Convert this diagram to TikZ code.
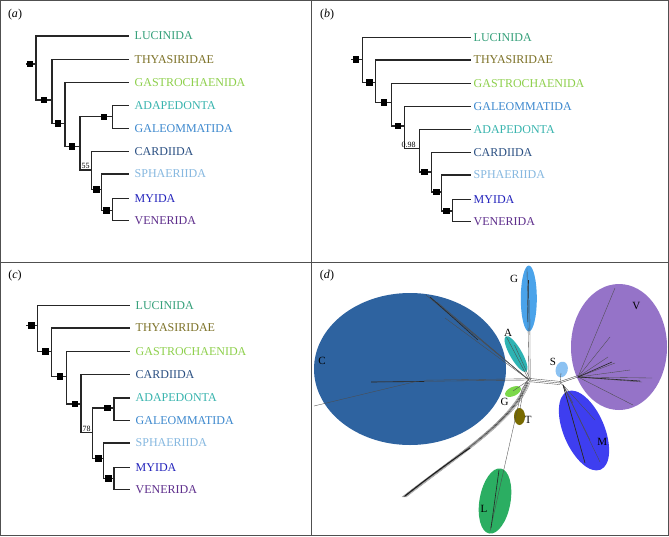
\documentclass[tikz,border=0pt]{standalone}
\usepackage{fontspec}
\setmainfont{Liberation Serif}
\usetikzlibrary{shapes.geometric}
\definecolor{cLUC}{HTML}{35A07A}
\definecolor{cTHY}{HTML}{7D7228}
\definecolor{cGAS}{HTML}{8ED04C}
\definecolor{cADA}{HTML}{38B4AE}
\definecolor{cGAL}{HTML}{3C88CE}
\definecolor{cCAR}{HTML}{2A4F82}
\definecolor{cSPH}{HTML}{86B8E0}
\definecolor{cMYI}{HTML}{2424BC}
\definecolor{cVEN}{HTML}{5E2E8C}
\definecolor{eC}{HTML}{2E63A0}
\definecolor{eG}{HTML}{4AA3EA}
\definecolor{eA}{HTML}{2DB3B3}
\definecolor{eS}{HTML}{8CC2F2}
\definecolor{eV}{HTML}{9573C8}
\definecolor{eM}{HTML}{3E3EF0}
\definecolor{eGs}{HTML}{7CD84A}
\definecolor{eT}{HTML}{786A00}
\definecolor{eL}{HTML}{2BAE62}
\definecolor{framec}{HTML}{505050}
\begin{document}
\begin{tikzpicture}[x=1pt,y=-1pt,
  br/.style={line width=1.1pt, draw=black!85},
  sqm/.style={fill=black, minimum size=6.5pt, inner sep=0pt},
  leaf/.style={anchor=west, inner sep=0pt, font=\fontsize{12}{14}\selectfont},
  bs/.style={anchor=south, inner sep=0.3pt, font=\fontsize{8}{9}\selectfont},
  plab/.style={inner sep=0pt, font=\fontsize{12}{14}\selectfont},
  ell/.style={ellipse, inner sep=0pt, draw=none},
  net/.style={line width=0.35pt, draw=black!70},
  netd/.style={line width=0.6pt, draw=black!85},
  dl/.style={inner sep=0pt, font=\fontsize{11}{13}\selectfont},
]
\useasboundingbox (0,0) rectangle (669,536);
\fill[white] (0,0) rectangle (669,536);

% ---------------- panel labels
\node[plab] (pa) at (15,14.5) {(\textit{a})};
\node[plab] (pb) at (327,14.5) {(\textit{b})};
\node[plab] (pc) at (15,275.5) {(\textit{c})};
\node[plab] (pd) at (327,275.5) {(\textit{d})};

% ================= panel (a)
\coordinate (as) at (26,64);
\coordinate (a0) at (36,64);
\coordinate (a1) at (52,100);
\coordinate (a2) at (65,123.3);
\coordinate (a3) at (80,146.7);
\coordinate (aAG) at (112.7,116.8);
\coordinate (a5) at (91.7,170);
\coordinate (a6) at (101.7,189.3);
\coordinate (a7) at (112.7,210.5);
\coordinate (aL1) at (129,36);
\coordinate (aL2) at (129,59.3);
\coordinate (aL3) at (129,82.3);
\coordinate (aL4) at (129,105.7);
\coordinate (aL5) at (129,128.3);
\coordinate (aL6) at (129,151.7);
\coordinate (aL7) at (129,174);
\coordinate (aL8) at (129,198.3);
\coordinate (aL9) at (129,220.7);
\draw[br] (as) -- (a0);
\draw[br] (a0) |- (aL1) (a0) |- (a1);
\draw[br] (a1) |- (aL2) (a1) |- (a2);
\draw[br] (a2) |- (aL3) (a2) |- (a3);
\draw[br] (a3) |- (aAG) (a3) |- (a5);
\draw[br] (aAG) |- (aL4) (aAG) |- (aL5);
\draw[br] (a5) |- (aL6) (a5) |- (a6);
\draw[br] (a6) |- (aL7) (a6) |- (a7);
\draw[br] (a7) |- (aL8) (a7) |- (aL9);
\node[sqm,xshift=-6pt] at (a0) {};
\node[sqm,xshift=-8pt] at (a1) {};
\node[sqm,xshift=-7pt] at (a2) {};
\node[sqm,xshift=-8pt] at (a3) {};
\node[sqm,xshift=-8.5pt] at (aAG) {};
\node[sqm,xshift=-5pt] at (a6) {};
\node[sqm,xshift=-6pt] at (a7) {};
\node[bs] (a55) at (85.5,169.5) {55};
\node[leaf,text=cLUC,xshift=5.5pt] at (aL1) {LUCINIDA};
\node[leaf,text=cTHY,xshift=5.5pt] at (aL2) {THYASIRIDAE};
\node[leaf,text=cGAS,xshift=5.5pt] at (aL3) {GASTROCHAENIDA};
\node[leaf,text=cADA,xshift=5.5pt] at (aL4) {ADAPEDONTA};
\node[leaf,text=cGAL,xshift=5.5pt] at (aL5) {GALEOMMATIDA};
\node[leaf,text=cCAR,xshift=5.5pt] at (aL6) {CARDIIDA};
\node[leaf,text=cSPH,xshift=5.5pt] at (aL7) {SPHAERIIDA};
\node[leaf,text=cMYI,xshift=5.5pt] at (aL8) {MYIDA};
\node[leaf,text=cVEN,xshift=5.5pt] at (aL9) {VENERIDA};

% ================= panel (b)
\coordinate (bs0) at (351.3,59.3);
\coordinate (b0) at (362.3,59.3);
\coordinate (b1) at (375.7,82.7);
\coordinate (b2) at (391.3,102.7);
\coordinate (b3) at (404.7,126);
\coordinate (b4) at (419.7,148.7);
\coordinate (b5) at (431.3,172);
\coordinate (b6) at (441.7,192);
\coordinate (b7) at (452.3,211);
\coordinate (bL1) at (470.7,37.7);
\coordinate (bL2) at (470.7,60);
\coordinate (bL3) at (470.7,83.3);
\coordinate (bL4) at (470.7,106.7);
\coordinate (bL5) at (470.7,129.3);
\coordinate (bL6) at (470.7,152.7);
\coordinate (bL7) at (470.7,175);
\coordinate (bL8) at (470.7,199.3);
\coordinate (bL9) at (470.7,221.7);
\draw[br] (bs0) -- (b0);
\draw[br] (b0) |- (bL1) (b0) |- (b1);
\draw[br] (b1) |- (bL2) (b1) |- (b2);
\draw[br] (b2) |- (bL3) (b2) |- (b3);
\draw[br] (b3) |- (bL4) (b3) |- (b4);
\draw[br] (b4) |- (bL5) (b4) |- (b5);
\draw[br] (b5) |- (bL6) (b5) |- (b6);
\draw[br] (b6) |- (bL7) (b6) |- (b7);
\draw[br] (b7) |- (bL8) (b7) |- (bL9);
\node[sqm,xshift=-6.3pt] at (b0) {};
\node[sqm,xshift=-6pt] at (b1) {};
\node[sqm,xshift=-7.3pt] at (b2) {};
\node[sqm,xshift=-6.7pt] at (b3) {};
\node[sqm,xshift=-6.6pt] at (b5) {};
\node[sqm,xshift=-5pt] at (b6) {};
\node[sqm,xshift=-5.6pt] at (b7) {};
\node[bs] (b098) at (408.5,148.3) {0.98};
\node[leaf,text=cLUC,xshift=2.8pt] at (bL1) {LUCINIDA};
\node[leaf,text=cTHY,xshift=2.8pt] at (bL2) {THYASIRIDAE};
\node[leaf,text=cGAS,xshift=2.8pt] at (bL3) {GASTROCHAENIDA};
\node[leaf,text=cGAL,xshift=2.8pt] at (bL4) {GALEOMMATIDA};
\node[leaf,text=cADA,xshift=2.8pt] at (bL5) {ADAPEDONTA};
\node[leaf,text=cCAR,xshift=2.8pt] at (bL6) {CARDIIDA};
\node[leaf,text=cSPH,xshift=2.8pt] at (bL7) {SPHAERIIDA};
\node[leaf,text=cMYI,xshift=2.8pt] at (bL8) {MYIDA};
\node[leaf,text=cVEN,xshift=2.8pt] at (bL9) {VENERIDA};

% ================= panel (c)
\coordinate (cs0) at (26,325.7);
\coordinate (c0) at (37.3,325.7);
\coordinate (c1) at (51.7,351.3);
\coordinate (c2) at (66.7,376.3);
\coordinate (c3) at (81,404);
\coordinate (c4) at (92.7,432.3);
\coordinate (cAG) at (114,408);
\coordinate (c6) at (103.3,458.7);
\coordinate (c7) at (114,478.7);
\coordinate (cL1) at (130,305.7);
\coordinate (cL2) at (130,328);
\coordinate (cL3) at (130,351.3);
\coordinate (cL4) at (130,374.7);
\coordinate (cL5) at (130,398);
\coordinate (cL6) at (130,420.7);
\coordinate (cL7) at (130,443);
\coordinate (cL8) at (130,467.3);
\coordinate (cL9) at (130,489.7);
\draw[br] (cs0) -- (c0);
\draw[br] (c0) |- (cL1) (c0) |- (c1);
\draw[br] (c1) |- (cL2) (c1) |- (c2);
\draw[br] (c2) |- (cL3) (c2) |- (c3);
\draw[br] (c3) |- (cL4) (c3) |- (c4);
\draw[br] (c4) |- (cAG) (c4) |- (c6);
\draw[br] (cAG) |- (cL5) (cAG) |- (cL6);
\draw[br] (c6) |- (cL7) (c6) |- (c7);
\draw[br] (c7) |- (cL8) (c7) |- (cL9);
\node[sqm,xshift=-5.6pt] at (c0) {};
\node[sqm,xshift=-6.4pt] at (c1) {};
\node[sqm,xshift=-6.7pt] at (c2) {};
\node[sqm,xshift=-6pt] at (c3) {};
\node[sqm,xshift=-6.7pt] at (cAG) {};
\node[sqm,xshift=-5pt] at (c6) {};
\node[sqm,xshift=-5.7pt] at (c7) {};
\node[bs] (c78) at (86.5,431.8) {78};
\node[leaf,text=cLUC,xshift=5.5pt] at (cL1) {LUCINIDA};
\node[leaf,text=cTHY,xshift=5.5pt] at (cL2) {THYASIRIDAE};
\node[leaf,text=cGAS,xshift=5.5pt] at (cL3) {GASTROCHAENIDA};
\node[leaf,text=cCAR,xshift=5.5pt] at (cL4) {CARDIIDA};
\node[leaf,text=cADA,xshift=5.5pt] at (cL5) {ADAPEDONTA};
\node[leaf,text=cGAL,xshift=5.5pt] at (cL6) {GALEOMMATIDA};
\node[leaf,text=cSPH,xshift=5.5pt] at (cL7) {SPHAERIIDA};
\node[leaf,text=cMYI,xshift=5.5pt] at (cL8) {MYIDA};
\node[leaf,text=cVEN,xshift=5.5pt] at (cL9) {VENERIDA};

% ================= panel (d)
\begin{scope}
\clip (312,263) rectangle (668,535);
% ellipses
\node[ell,fill=eC,minimum width=192pt,minimum height=152pt] (elC) at (410,369) {};
\node[ell,fill=eG,minimum width=16pt,minimum height=66pt] (elG) at (528.8,298.5) {};
\node[ell,fill=eA,minimum width=41pt,minimum height=12pt,rotate=-60] (elA) at (516,354) {};
\node[ell,fill=eS,minimum width=12pt,minimum height=16pt,rotate=-15] (elS) at (561.7,369.5) {};
\node[ell,fill=eV,minimum width=96pt,minimum height=126pt] (elV) at (619,347) {};
\node[ell,fill=eM,minimum width=85pt,minimum height=41pt,rotate=-67] (elM) at (584,430.5) {};
\node[ell,fill=eGs,minimum width=17pt,minimum height=9pt,rotate=25] (elGs) at (513,391.5) {};
\node[ell,fill=eT,minimum width=11pt,minimum height=17pt] (elT) at (519.5,416.5) {};
\node[ell,fill=eL,minimum width=31pt,minimum height=66pt,rotate=-10] (elL) at (495,501) {};
% network hubs
\coordinate (H1) at (529,380);
\coordinate (H2) at (560,383);
\coordinate (H3) at (578,377);
\coordinate (H4) at (563,385);
% hub connections
\foreach \d in {-1.6,0,1.6} {
  \draw[net] ([yshift=\d pt]H1) -- ([yshift=\d pt]H2);
}
\draw[net] (H2) -- (H3);
\draw[net] ([yshift=1.5pt]H2) -- ([yshift=1.5pt]H3);
\draw[net] (H2) -- (H4);
\draw[net] (H2) -- (561,373);
% to C
\coordinate (Cu1) at (426,295);
\coordinate (Cu2) at (430,297);
\coordinate (Cu3) at (437,302);
\coordinate (Cu4) at (445,318);
\foreach \p in {Cu1,Cu2,Cu3,Cu4} {\draw[net] (H1) -- (\p);}
\draw[netd] (Cu2) -- (478,340);
\coordinate (Ch) at (371,382);
\coordinate (Ch2) at (424,381.5);
\coordinate (Cl) at (314,406);
\draw[net] (H1) -- (Ch);
\draw[net] ([yshift=1.3pt]H1) -- ([yshift=1.3pt]Ch2);
\draw[netd] (Ch) -- (Ch2);
\draw[net] (416,381.5) -- (Cl);
% to G top, A, small G
\coordinate (Gt) at (527,268);
\draw[net] (H1) -- (Gt);
\draw[net] ([xshift=1.2pt]H1) -- ([xshift=1.2pt]528.5,300);
\draw[netd] (528.5,280) -- (527.8,322);
\coordinate (At) at (506.5,337);
\draw[net] (H1) -- (At);
\draw[net] ([xshift=1.5pt]H1) -- ([xshift=1.5pt]513,345);
\draw[net] (H1) -- (513,391);
% lower-left bundle
\foreach \d/\c in {-2/black!45,-1/black!60,0/black!85,1/black!55,2.2/black!40} {
  \draw[line width=0.45pt,draw=\c] ([xshift=\d pt]528,382) .. controls ([xshift=\d pt]514,420) and ([xshift=\d pt]462,452) .. ([xshift=\d pt]404,497);
}
\draw[line width=0.9pt,draw=black!90] (470,448) .. controls (445,465) and (425,480) .. (405,496);
% L and T
\draw[net] ([xshift=-1pt]H1) -- (522,389);
\draw[net] (522,389) -- (490,531);
\draw[netd] (499,470) -- (491,528);
\draw[net] (523,392) -- (520,409);
% to V
\foreach \p in {(615,288),(610,337),(608,357),(615,363),(642,382),(652,378),(633,405),(630,370)} {
  \draw[net] (H3) -- \p;
}
\draw[netd] (H3) -- (640,381);
\draw[netd] (H3) -- (612,362);
% to M
\foreach \p in {(585,463),(600,462),(595,420),(573,403),(590,440)} {
  \draw[net] (H4) -- \p;
}
\draw[netd] (H4) -- (585,463);
% labels
\node[dl] (tC) at (322,361) {C};
\node[dl] (tG1) at (514,279) {G};
\node[dl] (tA) at (508,333) {A};
\node[dl] (tS) at (553,362) {S};
\node[dl] (tV) at (636.3,306) {V};
\node[dl] (tM) at (602.3,442) {M};
\node[dl] (tG2) at (504.7,402) {G};
\node[dl] (tT) at (528.3,420.3) {T};
\node[dl] (tL) at (484,509) {L};
\end{scope}

% frame
\draw[framec,line width=0.9pt] (0.5,0.5) rectangle (668.5,535.5);
\draw[framec,line width=0.9pt] (311.5,0.5) -- (311.5,535.5);
\draw[framec,line width=0.9pt] (0.5,262.5) -- (668.5,262.5);
\end{tikzpicture}
\end{document}
